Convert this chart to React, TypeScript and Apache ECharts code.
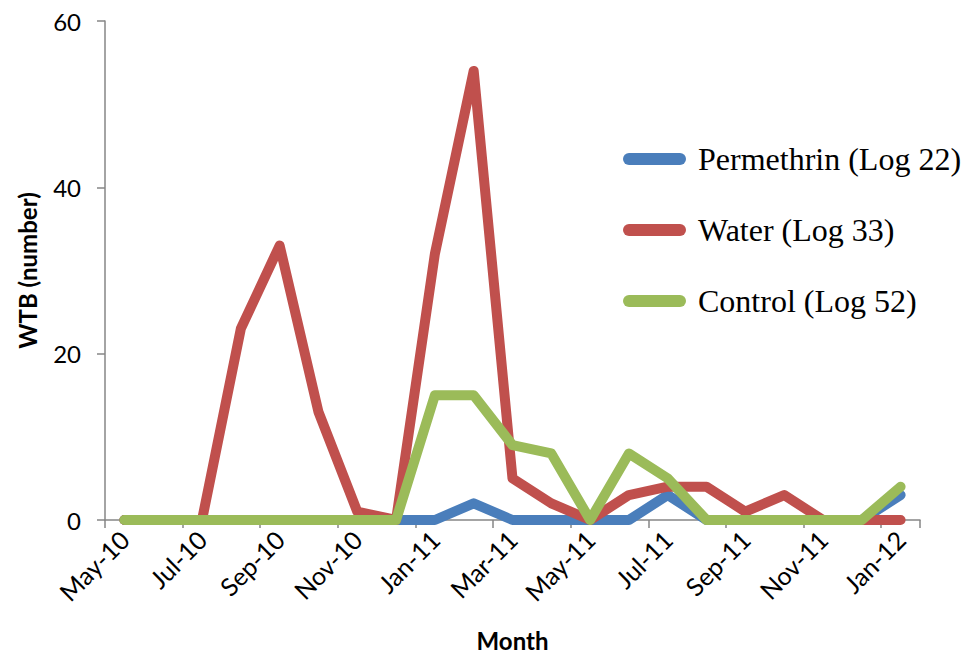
import React, { useEffect, useRef } from "react";
import * as echarts from "echarts";

const months = [
  "May-10", "Jun-10", "Jul-10", "Aug-10", "Sep-10", "Oct-10", "Nov-10", "Dec-10",
  "Jan-11", "Feb-11", "Mar-11", "Apr-11", "May-11", "Jun-11", "Jul-11", "Aug-11",
  "Sep-11", "Oct-11", "Nov-11", "Dec-11", "Jan-12",
];
const permethrin = [0, 0, 0, 0, 0, 0, 0, 0, 0, 2, 0, 0, 0, 0, 3, 0, 0, 0, 0, 0, 3];
const water = [0, 0, 0, 23, 33, 13, 1, 0, 32, 54, 5, 2, 0, 3, 4, 4, 1, 3, 0, 0, 0];
const control = [0, 0, 0, 0, 0, 0, 0, 0, 15, 15, 9, 8, 0, 8, 5, 0, 0, 0, 0, 0, 4];
const seriesNames = ["Permethrin (Log 22)", "Water (Log 33)", "Control (Log 52)"];
const colors = ["#4A7EBB", "#C0504D", "#9BBB59"];
const yTicks = { min: 0, max: 60, interval: 20 };

export default function App() {
  const ref = useRef<HTMLDivElement>(null);
  useEffect(() => {
    if (!ref.current) return;
    const chart = echarts.init(ref.current, null, { renderer: "svg" });
    const sans = "Lato";
    const dataSets = [permethrin, water, control];
    chart.setOption({
      animation: false,
      backgroundColor: "#ffffff",
      grid: {
        left: 105,
        right: 43,
        top: 21,
        bottom: 136,
        containLabel: false,
        outerBoundsMode: "none",
      },
      legend: {
        orient: "vertical",
        left: 618,
        top: 138,
        itemWidth: 63,
        itemHeight: 12,
        itemGap: 39,
        icon: "path://M6,0 L57,0 A6,6 0 0 1 57,12 L6,12 A6,6 0 0 1 6,0 Z",
        textStyle: {
          fontFamily: "Liberation Serif",
          fontSize: 32,
          color: "#000",
          padding: [0, 0, 0, 7],
        },
        data: seriesNames,
      },
      xAxis: {
        type: "category",
        data: months,
        boundaryGap: true,
        name: "Month",
        nameLocation: "middle",
        nameGap: 108,
        nameTextStyle: { fontFamily: sans, fontSize: 24, fontWeight: "bold", color: "#000" },
        axisLine: { lineStyle: { color: "#868686", width: 1.5 } },
        axisTick: { show: true, interval: 1, length: 8, lineStyle: { color: "#868686", width: 1.5 } },
        axisLabel: {
          interval: 1,
          rotate: 45,
          margin: 15,
          fontFamily: sans,
          fontSize: 25,
          color: "#000",
        },
        splitLine: { show: false },
      },
      yAxis: {
        type: "value",
        min: yTicks.min,
        max: yTicks.max,
        interval: yTicks.interval,
        name: "WTB (number)",
        nameLocation: "middle",
        nameGap: 66,
        nameTextStyle: { fontFamily: sans, fontSize: 24, fontWeight: "bold", color: "#000" },
        axisLine: { show: true, lineStyle: { color: "#868686", width: 1.5 } },
        axisTick: { show: true, length: 8, lineStyle: { color: "#868686", width: 1.5 } },
        axisLabel: { margin: 24, fontFamily: sans, fontSize: 24, color: "#000" },
        splitLine: { show: false },
      },
      series: seriesNames.map((name, i) => ({
        name,
        type: "line",
        data: dataSets[i],
        symbol: "none",
        clip: false,
        color: colors[i],
        lineStyle: { width: 10, color: colors[i], cap: "round", join: "round" },
        itemStyle: { color: colors[i] },
        z: 2 + i,
      })),
    });
    return () => chart.dispose();
  }, []);
  return (
    <div
      ref={ref}
      style={{ position: "absolute", left: 0, top: 0, width: 963, height: 656 }}
    />
  );
}
